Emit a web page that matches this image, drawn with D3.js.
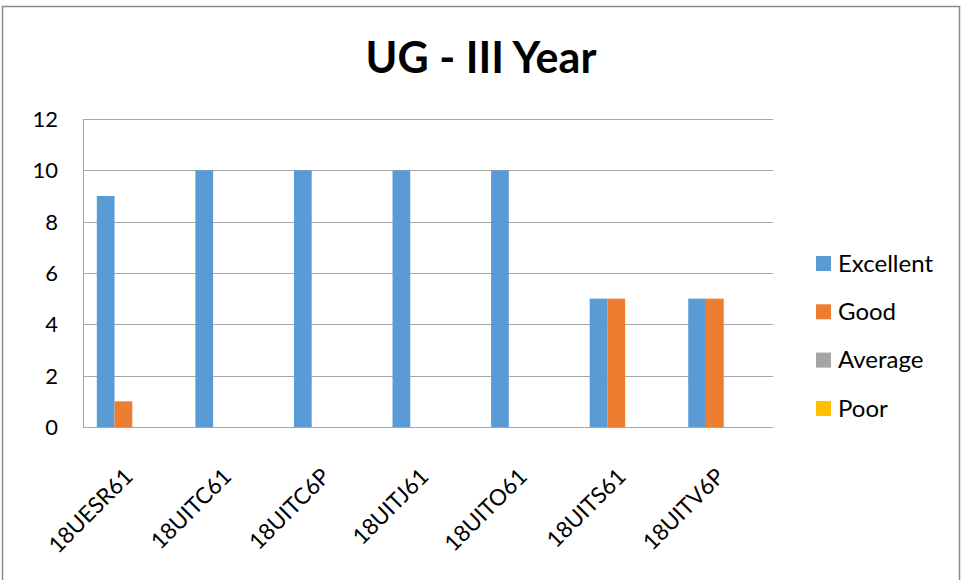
<!DOCTYPE html>
<html>
<head>
<meta charset="utf-8">
<script src="https://cdn.jsdelivr.net/npm/d3@7"></script>
<style>
  body { margin: 0; background: #fff; }
  text { font-family: Lato, "Open Sans", sans-serif; fill: #000; }
</style>
</head>
<body>
<svg id="chart" width="961" height="580"></svg>
<script>

/*************************** Data ***************************/

var categories = ["18UESR61", "18UITC61", "18UITC6P", "18UITJ61", "18UITO61", "18UITS61", "18UITV6P"];
var series_names = ["Excellent", "Good", "Average", "Poor"];
var excellent = [9, 10, 10, 10, 10, 5, 5];
var good = [1, 0, 0, 0, 0, 5, 5];
var average = [0, 0, 0, 0, 0, 0, 0];
var poor = [0, 0, 0, 0, 0, 0, 0];
var y_ticks = [0, 2, 4, 6, 8, 10, 12];
var colors = ["#5B9BD5", "#ED7D31", "#A5A5A5", "#FFC000"];

var series_values = [excellent, good, average, poor];

/*************************** Layout ***************************/

var svg = d3.select("#chart");
var plot = { left: 83, right: 773, top: 119, bottom: 427 };

// outer chart frame
svg.append("rect")
  .attr("x", 2.5).attr("y", 6.5)
  .attr("width", 957).attr("height", 620)
  .style("fill", "none").style("stroke", "#8a8a8a").style("stroke-width", 1.5);

var x0 = d3.scaleBand().domain(categories)
  .range([plot.left, plot.right])
  .paddingInner(0.28).paddingOuter(0.14);

var x1 = d3.scaleBand().domain(series_names)
  .range([0, x0.bandwidth()]).padding(0);

var y = d3.scaleLinear().domain([0, 12]).range([plot.bottom, plot.top]);

/*************************** Grid + axes ***************************/

svg.append("g").selectAll("line").data(y_ticks).enter().append("line")
  .attr("x1", plot.left).attr("x2", plot.right)
  .attr("y1", function(d){ return Math.round(y(d)) + 0.5; })
  .attr("y2", function(d){ return Math.round(y(d)) + 0.5; })
  .style("stroke", "#a6a6a6").style("stroke-width", 1);

svg.append("line")
  .attr("x1", plot.left + 0.5).attr("x2", plot.left + 0.5)
  .attr("y1", plot.top).attr("y2", plot.bottom)
  .style("stroke", "#a6a6a6");

svg.append("g").selectAll("text").data(y_ticks).enter().append("text")
  .attr("x", 58)
  .attr("y", function(d){ return y(d); })
  .attr("dy", "0.36em")
  .attr("text-anchor", "end")
  .style("font-size", "22px")
  .text(function(d){ return d; });

/*************************** Bars ***************************/

var groups = svg.append("g").selectAll("g").data(categories).enter().append("g")
  .attr("transform", function(d){ return "translate(" + x0(d) + ",0)"; });

groups.selectAll("rect")
  .data(function(d, i){ return series_names.map(function(s, j){ return { s: s, v: series_values[j][i], c: colors[j] }; }); })
  .enter().append("rect")
  .attr("x", function(d){ return x1(d.s); })
  .attr("width", x1.bandwidth())
  .attr("y", function(d){ return y(d.v); })
  .attr("height", function(d){ return y(0) - y(d.v); })
  .style("fill", function(d){ return d.c; });

/*************************** X labels ***************************/

svg.append("g").selectAll("text").data(categories).enter().append("text")
  .attr("transform", function(d){
    var cx = x0(d) + x0.bandwidth() / 2 + 2;
    return "translate(" + cx + ",478) rotate(-45)";
  })
  .attr("text-anchor", "end")
  .style("font-size", "22.5px")
  .text(function(d){ return d; });

/*************************** Title ***************************/

svg.append("text")
  .attr("x", 481).attr("y", 73)
  .attr("text-anchor", "middle")
  .style("font-size", "43px").style("font-weight", "bold")
  .text("UG - III Year");

/*************************** Legend ***************************/

var legend = svg.append("g").selectAll("g").data(series_names).enter().append("g")
  .attr("transform", function(d, i){ return "translate(816," + (263 + i * 48.3) + ")"; });

legend.append("rect")
  .attr("x", 0).attr("y", -7).attr("width", 15).attr("height", 15)
  .style("fill", function(d, i){ return colors[i]; });

legend.append("text")
  .attr("x", 22).attr("dy", "0.36em")
  .style("font-size", "24px")
  .text(function(d){ return d; });

</script>
</body>
</html>
